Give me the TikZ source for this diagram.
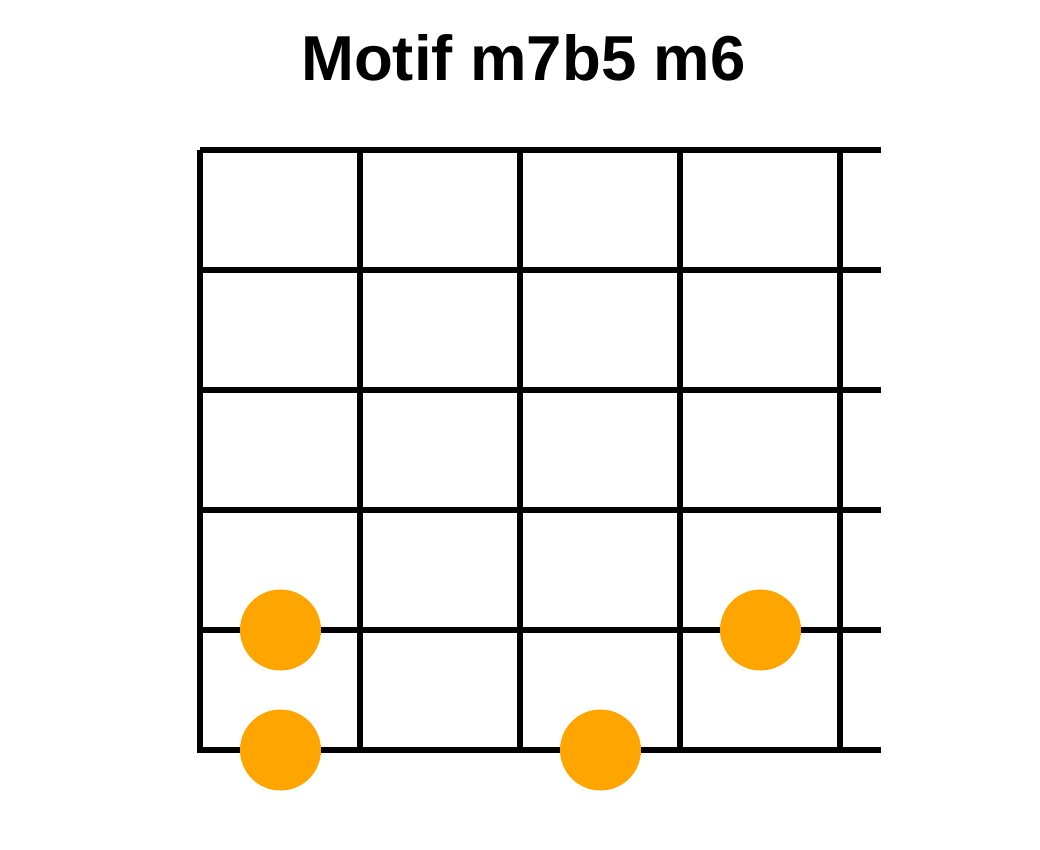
\documentclass[tikz,border=0pt]{standalone}
\usepackage{fontspec}
\setmainfont{Liberation Sans}
\definecolor{dotorange}{HTML}{FFA500}
\begin{document}
\begin{tikzpicture}[x=1pt,y=-1pt,
  gridline/.style={line width=5.5pt,black},
  fingerdot/.style={circle,fill=dotorange,minimum size=81pt,inner sep=0pt,draw=none}]
\useasboundingbox[fill=white] (0,0) rectangle (1040,850);
\node[anchor=base,font=\fontsize{63.5}{64}\selectfont\bfseries] (title) at (523.5,81) {Motif m7b5 m6};
\foreach \x in {200,360,520,680,840} \draw[gridline] (\x,150) -- (\x,753);
\foreach \y in {150,270,390,510,630,750} \draw[gridline] (200,\y) -- (881,\y);
\node[fingerdot] (d1) at (280.5,630) {};
\node[fingerdot] (d2) at (280.5,750) {};
\node[fingerdot] (d3) at (600.5,750) {};
\node[fingerdot] (d4) at (760.5,630) {};
\end{tikzpicture}
\end{document}
